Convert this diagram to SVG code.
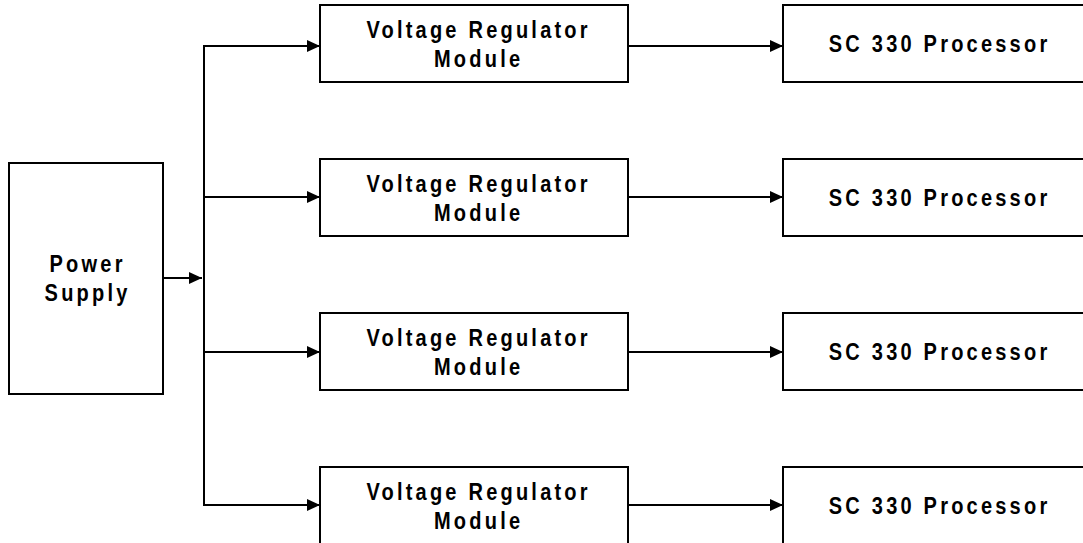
<svg xmlns="http://www.w3.org/2000/svg" width="1083" height="543" viewBox="0 0 1083 543">
<style>
.box{fill:#fff;stroke:#000;stroke-width:2}
.t{font-family:"Liberation Sans",Arial,sans-serif;font-weight:bold;font-size:23px;letter-spacing:3.7px;fill:#000;text-anchor:middle}
.c{fill:none;stroke:#000;stroke-width:2}
</style>
<defs>
<marker id="ah" markerWidth="13" markerHeight="12" refX="13" refY="6" orient="auto" markerUnits="userSpaceOnUse">
<path d="M0,0 L13,6 L0,12 Z" fill="#000"/>
</marker>
</defs>
<rect width="1083" height="543" fill="#fff"/>
<g id="connectors">
<path class="c" d="M163,278 H202" marker-end="url(#ah)"/>
<path class="c" d="M204,46 V505"/>
<path class="c" d="M203,46 H320" marker-end="url(#ah)"/>
<path class="c" d="M203,197 H320" marker-end="url(#ah)"/>
<path class="c" d="M203,352 H320" marker-end="url(#ah)"/>
<path class="c" d="M203,505 H320" marker-end="url(#ah)"/>
<path class="c" d="M628,46 H783" marker-end="url(#ah)"/>
<path class="c" d="M628,197 H783" marker-end="url(#ah)"/>
<path class="c" d="M628,352 H783" marker-end="url(#ah)"/>
<path class="c" d="M628,505 H783" marker-end="url(#ah)"/>
</g>
<g id="power">
<rect class="box" x="9" y="163" width="154" height="231"/>
<text class="t" transform="translate(87.6 272) scale(0.87 1)">Power</text>
<text class="t" transform="translate(87.6 301) scale(0.87 1)">Supply</text>
</g>
<g id="vrm1">
<rect class="box" x="320" y="5" width="308" height="77"/>
<text class="t" transform="translate(478.6 37.5) scale(0.87 1)">Voltage Regulator</text>
<text class="t" transform="translate(478.6 67) scale(0.87 1)">Module</text>
</g>
<g id="vrm2">
<rect class="box" x="320" y="159" width="308" height="77"/>
<text class="t" transform="translate(478.6 191.5) scale(0.87 1)">Voltage Regulator</text>
<text class="t" transform="translate(478.6 221) scale(0.87 1)">Module</text>
</g>
<g id="vrm3">
<rect class="box" x="320" y="313" width="308" height="77"/>
<text class="t" transform="translate(478.6 345.5) scale(0.87 1)">Voltage Regulator</text>
<text class="t" transform="translate(478.6 375) scale(0.87 1)">Module</text>
</g>
<g id="vrm4">
<rect class="box" x="320" y="467" width="308" height="80"/>
<text class="t" transform="translate(478.6 499.5) scale(0.87 1)">Voltage Regulator</text>
<text class="t" transform="translate(478.6 529) scale(0.87 1)">Module</text>
</g>
<g id="sc1">
<rect class="box" x="783" y="5" width="302" height="77"/>
<text class="t" transform="translate(939.6 52) scale(0.87 1)">SC 330 Processor</text>
</g>
<g id="sc2">
<rect class="box" x="783" y="159" width="302" height="77"/>
<text class="t" transform="translate(939.6 206) scale(0.87 1)">SC 330 Processor</text>
</g>
<g id="sc3">
<rect class="box" x="783" y="313" width="302" height="77"/>
<text class="t" transform="translate(939.6 360) scale(0.87 1)">SC 330 Processor</text>
</g>
<g id="sc4">
<rect class="box" x="783" y="467" width="302" height="80"/>
<text class="t" transform="translate(939.6 514) scale(0.87 1)">SC 330 Processor</text>
</g>
</svg>
